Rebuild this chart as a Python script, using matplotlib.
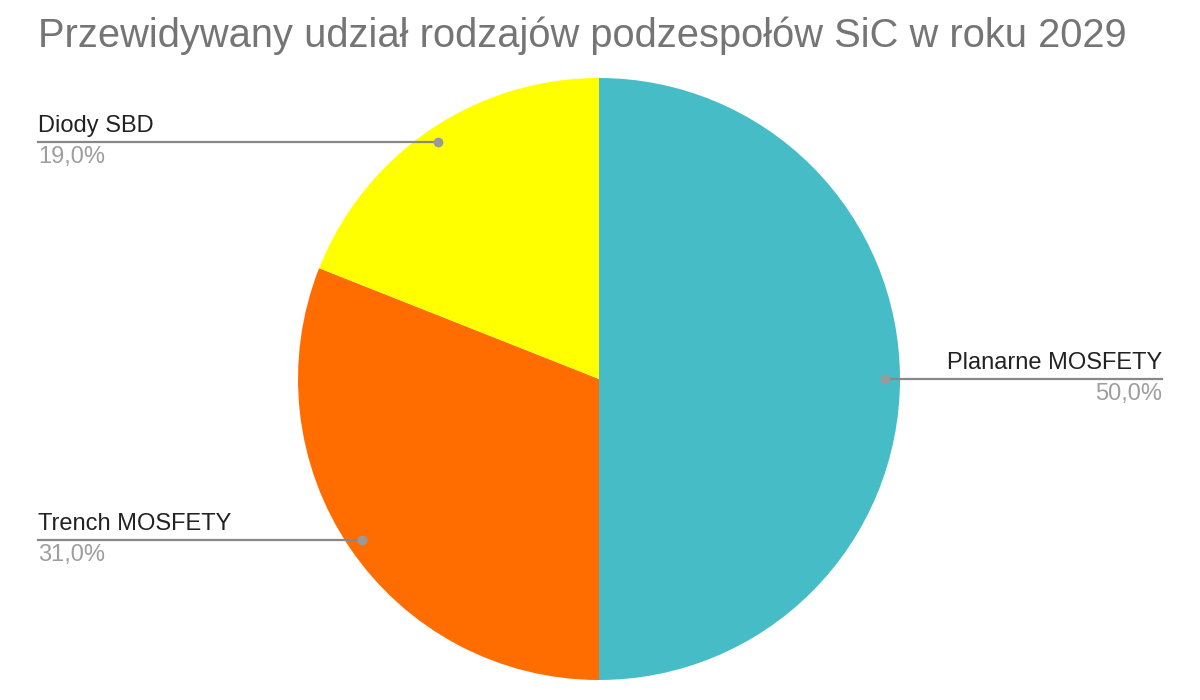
import numpy as np
import matplotlib.pyplot as plt

labels = ['Planarne MOSFETY', 'Trench MOSFETY', 'Diody SBD']
values = [50.0, 31.0, 19.0]
pct_labels = ['50,0%', '31,0%', '19,0%']
colors = ['#46BDC6', '#FF6D01', '#FFFF00']

plt.rcParams['font.family'] = ['Liberation Sans', 'DejaVu Sans']

fig = plt.figure(figsize=(12, 7), dpi=100)
ax = fig.add_axes([0, 0, 1, 1])

cx, cy, r = 599, 321, 301
wedges, _ = ax.pie(values, colors=colors, startangle=90, counterclock=False,
                   center=(cx, cy), radius=r, frame=True,
                   wedgeprops=dict(linewidth=0))
ax.set_xlim(0, 1200)
ax.set_ylim(0, 700)
ax.set_aspect('equal')
ax.axis('off')

# leader lines: dot on the slice, line out to the label
for w, lab, pct in zip(wedges, labels, pct_labels):
    mid = np.deg2rad((w.theta1 + w.theta2) / 2)
    dx = cx + 0.95 * r * np.cos(mid)
    dy = cy + 0.95 * r * np.sin(mid)
    if np.cos(mid) >= 0:
        x_end, ha = 1162, 'right'
    else:
        x_end, ha = 38, 'left'
    ax.plot([dx, x_end], [dy, dy], color='#888888', lw=1.6, zorder=3)
    ax.plot(dx, dy, 'o', color='#9a9a9a', ms=6, zorder=4)
    ax.text(x_end, dy + 5, lab, ha=ha, va='bottom', fontsize=17, color='#222222')
    ax.text(x_end, dy - 4, pct, ha=ha, va='top', fontsize=17, color='#9e9e9e')

fig.text(38 / 1200, 1 - 36 / 700, 'Przewidywany udział rodzajów podzespołów SiC w roku 2029',
         ha='left', va='center', fontsize=28.7, color='#757575')

fig.savefig('out.png', dpi=100, facecolor='white')
